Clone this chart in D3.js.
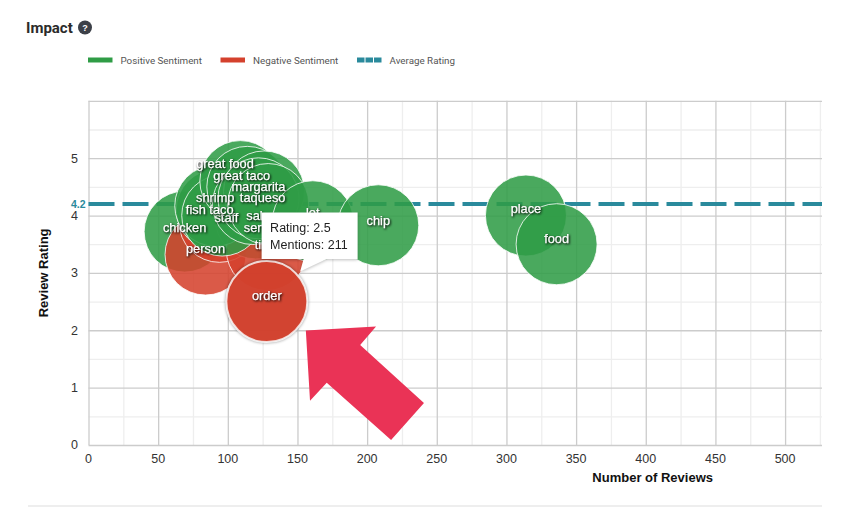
<!DOCTYPE html>
<html>
<head>
<meta charset="utf-8">
<script src="https://cdn.jsdelivr.net/npm/d3@7"></script>
<style>
  html, body { margin: 0; padding: 0; background: #fff; }
  svg { display: block; }
  text { font-family: "Liberation Sans", Arial, sans-serif; }
  .grid path { display: none; }
  .tick-label { font-size: 12.5px; fill: #333; }
  .axis-title { font-size: 13px; font-weight: bold; fill: #111; }
  .legend-label { font-family: Roboto, sans-serif; font-size: 9.8px; fill: #555; }
  .bubble-label { font-size: 12.8px; fill: #fff; text-anchor: middle; dominant-baseline: central;
    stroke: #fff; stroke-width: 0.25px;
    filter: drop-shadow(1px 1px 1.2px rgba(0,0,0,.95)); }
</style>
</head>
<body>
<div id="chart"></div>
<script>
// data
var terms     = ["chicken", "person", "staff", "flavor", "price", "time", "shrimp", "fish taco", "great food", "great taco", "salsa", "margarita", "taqueso", "service", "lot", "chip", "place", "food", "order"];
var reviews   = [69, 84, 94, 92, 120, 128, 91, 96, 109, 114, 118, 126, 122, 129, 161, 208, 314, 336, 128];
var ratings   = [3.72, 3.32, 3.89, 4.1, 3.95, 3.4, 4.17, 4.0, 4.6, 4.5, 4.2, 4.42, 4.3, 4.2, 3.9, 3.83, 4.0, 3.5, 2.5];
var sentiment = ["pos", "neg", "neg", "pos", "pos", "neg", "pos", "pos", "pos", "pos", "pos", "pos", "pos", "pos", "pos", "pos", "pos", "pos", "neg"];
// where each label ended up once the chart had spread them apart
var labelReviews = [69, 84, 99, 91, 124, 128, 91, 87, 98, 110, 124, 122, 125, 126, 161, 208, 314, 336, 128];
var labelRatings = [3.8, 3.42, 3.96, 4.2, 3.9, 3.5, 4.31, 4.1, 4.9, 4.7, 4.0, 4.5, 4.31, 3.8, 4.05, 3.92, 4.12, 3.6, 2.6];
var buriedLabels = ["flavor", "price"];

var xTicks = [0, 50, 100, 150, 200, 250, 300, 350, 400, 450, 500];
var xMinor = [25, 75, 125, 175, 225, 275, 325, 375, 425, 475, 525];
var yTicks = [0, 1, 2, 3, 4, 5, 6];
var yMinor = [0.5, 1.5, 2.5, 3.5, 4.5, 5.5];
var yLabels = [0, 1, 2, 3, 4, 5];
var averageRating = 4.2;

var legendNames = ["Positive Sentiment", "Negative Sentiment", "Average Rating"];
var tooltipLines = ["Rating: 2.5", "Mentions: 211"];
var highlighted = "order";

// callout arrow, in chart units
var arrowReviews = [156, 206.4, 195, 240.8, 217.2, 171, 159];
var arrowRatings = [1.995, 2.065, 1.745, 0.733, 0.087, 1.087, 0.773];

var width = 850, height = 510;
var margin = { top: 100.8, right: 28, bottom: 65, left: 88.5 };
var innerW = width - margin.left - margin.right;
var innerH = height - margin.top - margin.bottom;
var radius = 40.5;

var colors = { pos: "#2f9c46", neg: "#d4412d", avg: "#2a8a9c", arrow: "#ea3356" };

var svg = d3.select("#chart").append("svg").attr("width", width).attr("height", height);

var x = d3.scaleLinear().domain([0, 526.5]).range([0, innerW]);
var y = d3.scaleLinear().domain([0, 6]).range([innerH, 0]);

// title
svg.append("text").attr("x", 26).attr("y", 33)
  .style("font-family", "Roboto, sans-serif").style("font-size", "15px").style("font-weight", "bold").attr("fill", "#2b2b2b")
  .text("Impact");
svg.append("circle").attr("cx", 85).attr("cy", 27.5).attr("r", 7).attr("fill", "#3c4048");
svg.append("text").attr("x", 85).attr("y", 30.8).attr("text-anchor", "middle")
  .style("font-size", "9px").style("font-weight", "bold").attr("fill", "#fff").text("?");

// legend
var legendX = [88, 220.5, 357];
var legendColors = [colors.pos, colors.neg, colors.avg];
legendNames.forEach(function(name, i) {
  var swatch = svg.append("line")
    .attr("x1", legendX[i]).attr("x2", legendX[i] + 24.5)
    .attr("y1", 60).attr("y2", 60)
    .attr("stroke", legendColors[i]).attr("stroke-width", 5);
  if (i == 2) swatch.attr("stroke-dasharray", "7.5 1");
  svg.append("text").attr("class", "legend-label")
    .attr("x", legendX[i] + 32.5).attr("y", 63.5).text(name);
});

var plot = svg.append("g").attr("transform", "translate(" + margin.left + "," + margin.top + ")");

// grid, minor first so the major lines sit on top
function gridX(ticks, color) {
  plot.append("g").attr("class", "grid").attr("transform", "translate(0," + innerH + ")")
    .call(d3.axisBottom(x).tickValues(ticks).tickSize(-innerH).tickFormat(""))
    .selectAll("line").attr("stroke", color).attr("stroke-width", 1.3);
}
function gridY(ticks, color) {
  plot.append("g").attr("class", "grid")
    .call(d3.axisLeft(y).tickValues(ticks).tickSize(-innerW).tickFormat(""))
    .selectAll("line").attr("stroke", color).attr("stroke-width", 1.3);
}
gridX(xMinor, "#eeeeee");
gridY(yMinor, "#eeeeee");
gridX(xTicks, "#cccccc");
gridY(yTicks, "#cccccc");

// tick labels
plot.selectAll(".x-label").data(xTicks).enter().append("text")
  .attr("class", "tick-label").attr("text-anchor", "middle")
  .attr("x", function(d) { return x(d); }).attr("y", innerH + 18.5)
  .text(function(d) { return d; });
plot.selectAll(".y-label").data(yLabels).enter().append("text")
  .attr("class", "tick-label").attr("text-anchor", "end")
  .attr("x", -10.5).attr("y", function(d) { return y(d) + 4.5; })
  .text(function(d) { return d; });

// axis titles
plot.append("text").attr("class", "axis-title").attr("text-anchor", "end")
  .attr("x", 713 - margin.left).attr("y", innerH + 37.5).text("Number of Reviews");
plot.append("text").attr("class", "axis-title").attr("text-anchor", "middle")
  .attr("transform", "translate(-41," + y(3) + ") rotate(-90)").text("Review Rating");

// average line
plot.append("line")
  .attr("x1", 0).attr("x2", innerW)
  .attr("y1", y(averageRating)).attr("y2", y(averageRating))
  .attr("stroke", colors.avg).attr("stroke-width", 4).attr("stroke-dasharray", "26 8");
plot.append("text").attr("x", -3).attr("y", y(averageRating) + 3.5).attr("text-anchor", "end")
  .style("font-size", "10.5px").style("font-weight", "bold").attr("fill", colors.avg)
  .text(averageRating);

// bubbles
var rows = terms.map(function(term, i) {
  return { term: term, reviews: reviews[i], rating: ratings[i], sentiment: sentiment[i],
    labelX: labelReviews[i], labelY: labelRatings[i] };
});

var bubbles = plot.selectAll(".bubble").data(rows).enter().append("g").attr("class", "bubble");
bubbles.append("circle")
  .attr("cx", function(d) { return x(d.reviews); })
  .attr("cy", function(d) { return y(d.rating); })
  .attr("r", radius)
  .attr("fill", function(d) { return colors[d.sentiment]; })
  .attr("fill-opacity", function(d) { return d.term == highlighted ? 0.97 : 0.87; })
  .attr("stroke", "#fff")
  .attr("stroke-opacity", 0.8)
  .attr("stroke-width", function(d) { return d.term == highlighted ? 2 : 1; })
  .style("filter", function(d) { return d.term == highlighted ? "drop-shadow(0 0 1.5px rgba(0,0,0,.45))" : null; });

// covered labels stay inside their bubble group, the rest go on top
function placeLabel(sel) {
  sel.attr("class", "bubble-label")
    .attr("x", function(d) { return x(d.labelX); })
    .attr("y", function(d) { return y(d.labelY); })
    .text(function(d) { return d.term; });
}
bubbles.filter(function(d) { return buriedLabels.indexOf(d.term) >= 0; }).append("text").call(placeLabel);
plot.selectAll(".top-label")
  .data(rows.filter(function(d) { return buriedLabels.indexOf(d.term) < 0; }))
  .enter().append("text").call(placeLabel);

// tooltip sits on the highlighted bubble
var hit = rows.filter(function(d) { return d.term == highlighted; })[0];
var tipX = x(hit.reviews) - 5.2, tipY = y(hit.rating) - 89.2;
var tip = plot.append("g").attr("transform", "translate(" + tipX + "," + tipY + ")")
  .style("filter", "drop-shadow(0 1px 1.5px rgba(0,0,0,.25))");
tip.append("path").attr("d", "M0,0H96V46.6H65L38.5,59L42,46.6H0Z").attr("fill", "#fff");
tip.selectAll("text").data(tooltipLines).enter().append("text")
  .attr("x", 8.5).attr("y", function(d, i) { return 20 + i * 17; })
  .style("font-size", "12.5px").attr("fill", "#222")
  .text(function(d) { return d; });

// callout arrow
var arrowLine = d3.line().x(function(d) { return x(d[0]); }).y(function(d) { return y(d[1]); }).curve(d3.curveLinearClosed);
plot.append("path").attr("d", arrowLine(d3.zip(arrowReviews, arrowRatings))).attr("fill", colors.arrow);

// rule at the bottom of the card
svg.append("line").attr("x1", 28).attr("x2", 822).attr("y1", 506).attr("y2", 506)
  .attr("stroke", "#e8e8e8").attr("stroke-width", 1.5);
</script>
</body>
</html>
